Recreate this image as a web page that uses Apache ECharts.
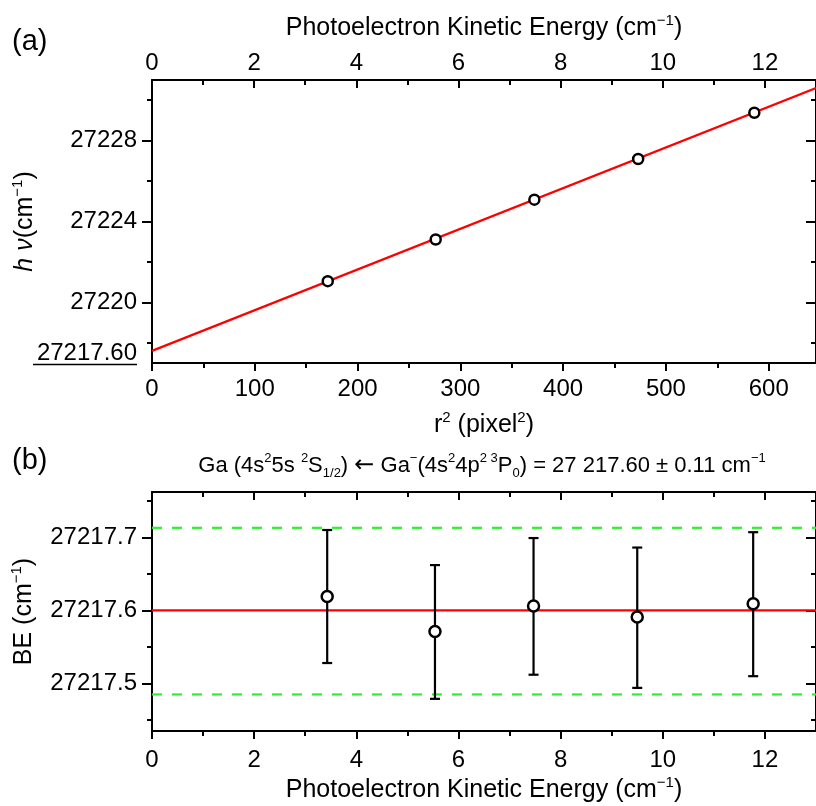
<!DOCTYPE html>
<html>
<head>
<meta charset="utf-8">
<script src="https://cdn.jsdelivr.net/npm/echarts@6/dist/echarts.min.js"></script>
<style>html,body{margin:0;background:#fff}#c{width:816px;height:806px}</style>
</head>
<body>
<div id="c"></div>
<script>
// measured points (same five spectra in both panels)
const keVals = [3.43, 5.54, 7.47, 9.50, 11.77];
const r2Vals = [171, 276, 372, 473, 586];
const hvVals = [27221.05, 27223.11, 27225.08, 27227.09, 27229.38];
const beVals = [27217.619, 27217.571, 27217.606, 27217.591, 27217.609];
const beLow = [27217.528, 27217.479, 27217.512, 27217.494, 27217.510];
const beHigh = [27217.710, 27217.662, 27217.699, 27217.686, 27217.707];
// linear fit and result
const fitR2 = [0, 646];
const fitHv = [27217.60, 27230.60];
const beFit = 27217.60;
const beBand = [27217.485, 27217.713];
// axes
const keRange = [0, 13];
const r2Range = [0, 646];
const hvRange = [27217, 27231];
const beRange = [27217.435, 27217.762];
const keMajor = [0, 2, 4, 6, 8, 10, 12];
const keMinor = [1, 3, 5, 7, 9, 11];
const r2Major = [0, 100, 200, 300, 400, 500, 600];
const r2Minor = [50, 150, 250, 350, 450, 550];
const hvMajor = [27220, 27224, 27228];
const hvMinor = [27218, 27222, 27226, 27230];
const beMajor = [27217.5, 27217.6, 27217.7];
const beMinor = [27217.45, 27217.55, 27217.65, 27217.75];

const FONT = '"Liberation Sans", Arial, sans-serif';
const black = '#000';
const RED = '#ff0000';
const GREEN = '#2ef02e';

const rich = {
  sup: { fontSize: 15, lineHeight: 14, verticalAlign: 'top', fontFamily: FONT, color: black },
  sub: { fontSize: 15, lineHeight: 14, verticalAlign: 'bottom', fontFamily: FONT, color: black },
  it: { fontSize: 25, fontStyle: 'italic', fontFamily: FONT, color: black, lineHeight: 30 },
};
const nameStyle = { fontSize: 25, fontFamily: FONT, color: black, lineHeight: 30, rich: rich };

function ax(o) {
  return Object.assign({
    type: 'value',
    gridIndex: o.grid,
    position: o.pos,
    min: o.range[0],
    max: o.range[1],
    axisLine: { show: o.line !== false, onZero: false, lineStyle: { color: black, width: 2 } },
    axisTick: { show: true, inside: !!o.inside, length: o.len, customValues: o.ticks,
      lineStyle: { color: black, width: 2 } },
    axisLabel: o.fmt ? { show: true, customValues: o.ticks, fontSize: 24, fontFamily: FONT,
      color: black, margin: o.margin, formatter: o.fmt } : { show: false },
    splitLine: { show: false },
  }, o.extra || {});
}
const num = v => String(v);

const chart = echarts.init(document.getElementById('c'));
chart.setOption({
  animation: false,
  backgroundColor: '#fff',
  grid: [
    { left: 152, top: 80, right: -6, height: 283 },
    { left: 152, top: 492, right: -6, height: 241 },
  ],
  xAxis: [
    // 0,1: top panel r^2 (bottom)
    ax({ grid: 0, pos: 'bottom', range: r2Range, ticks: r2Major, len: 8, fmt: num, margin: 14,
      extra: { name: 'r{sup|2} (pixel{sup|2})', nameLocation: 'middle', nameGap: 47, nameTextStyle: nameStyle } }),
    ax({ grid: 0, pos: 'bottom', range: r2Range, ticks: r2Minor, len: 5, line: false }),
    // 2,3: top panel KE (top)
    ax({ grid: 0, pos: 'top', range: keRange, ticks: keMajor, len: 8, inside: true, fmt: num, margin: 5,
      extra: { name: 'Photoelectron Kinetic Energy (cm{sup|−1})', nameLocation: 'middle', nameGap: 37, nameTextStyle: nameStyle } }),
    ax({ grid: 0, pos: 'top', range: keRange, ticks: keMinor, len: 5, inside: true, line: false }),
    // 4,5: bottom panel KE (bottom)
    ax({ grid: 1, pos: 'bottom', range: keRange, ticks: keMajor, len: 8, fmt: num, margin: 17,
      extra: { name: 'Photoelectron Kinetic Energy (cm{sup|−1})', nameLocation: 'middle', nameGap: 44, nameTextStyle: nameStyle } }),
    ax({ grid: 1, pos: 'bottom', range: keRange, ticks: keMinor, len: 5, line: false }),
    // 6,7: bottom panel KE (top)
    ax({ grid: 1, pos: 'top', range: keRange, ticks: keMajor, len: 8, inside: true }),
    ax({ grid: 1, pos: 'top', range: keRange, ticks: keMinor, len: 5, inside: true, line: false }),
  ],
  yAxis: [
    // 0..3: top panel h nu
    ax({ grid: 0, pos: 'left', range: hvRange, ticks: hvMajor, len: 10, fmt: num, margin: 15,
      extra: { name: '{it|h ν}(cm{sup|−1})', nameLocation: 'middle', nameGap: 112, nameRotate: 90, nameTextStyle: nameStyle } }),
    ax({ grid: 0, pos: 'left', range: hvRange, ticks: hvMinor, len: 5, line: false }),
    ax({ grid: 0, pos: 'right', range: hvRange, ticks: hvMajor, len: 10, inside: true }),
    ax({ grid: 0, pos: 'right', range: hvRange, ticks: hvMinor, len: 5, inside: true, line: false }),
    // 4..7: bottom panel BE
    ax({ grid: 1, pos: 'left', range: beRange, ticks: beMajor, len: 10, fmt: v => v.toFixed(1), margin: 15,
      extra: { name: 'BE (cm{sup|−1})', nameLocation: 'middle', nameGap: 112, nameRotate: 90, nameTextStyle: nameStyle } }),
    ax({ grid: 1, pos: 'left', range: beRange, ticks: beMinor, len: 5, line: false }),
    ax({ grid: 1, pos: 'right', range: beRange, ticks: beMajor, len: 10, inside: true }),
    ax({ grid: 1, pos: 'right', range: beRange, ticks: beMinor, len: 5, inside: true, line: false }),
  ],
  series: [
    {
      type: 'line', xAxisIndex: 0, yAxisIndex: 0, symbol: 'none', clip: true,
      data: fitR2.map((x, i) => [x, fitHv[i]]),
      lineStyle: { color: RED, width: 2.2 }, z: 2,
    },
    {
      type: 'scatter', xAxisIndex: 0, yAxisIndex: 0, symbol: 'circle', symbolSize: 10,
      data: r2Vals.map((x, i) => [x, hvVals[i]]),
      itemStyle: { color: '#fff', borderColor: black, borderWidth: 2.5, opacity: 1 }, z: 5,
    },
    {
      type: 'line', xAxisIndex: 4, yAxisIndex: 4, symbol: 'none',
      data: keRange.map(x => [x, beFit]),
      lineStyle: { color: RED, width: 2.2 }, z: 2,
    },
    {
      type: 'line', xAxisIndex: 4, yAxisIndex: 4, symbol: 'none',
      data: keRange.map(x => [x, beBand[0]]),
      lineStyle: { color: GREEN, width: 2.2, type: [10, 10] }, z: 2,
    },
    {
      type: 'line', xAxisIndex: 4, yAxisIndex: 4, symbol: 'none',
      data: keRange.map(x => [x, beBand[1]]),
      lineStyle: { color: GREEN, width: 2.2, type: [10, 10] }, z: 2,
    },
    {
      type: 'custom', xAxisIndex: 4, yAxisIndex: 4, z: 3,
      data: keVals.map((x, i) => [x, beLow[i], beHigh[i]]),
      renderItem: function (params, api) {
        const lo = api.coord([api.value(0), api.value(1)]);
        const hi = api.coord([api.value(0), api.value(2)]);
        const st = { stroke: black, lineWidth: 2.2 };
        return {
          type: 'group',
          children: [
            { type: 'line', shape: { x1: lo[0], y1: lo[1], x2: hi[0], y2: hi[1] }, style: st },
            { type: 'line', shape: { x1: lo[0] - 5, y1: lo[1], x2: lo[0] + 5, y2: lo[1] }, style: st },
            { type: 'line', shape: { x1: hi[0] - 5, y1: hi[1], x2: hi[0] + 5, y2: hi[1] }, style: st },
          ],
        };
      },
    },
    {
      type: 'scatter', xAxisIndex: 4, yAxisIndex: 4, symbol: 'circle', symbolSize: 11,
      data: keVals.map((x, i) => [x, beVals[i]]),
      itemStyle: { color: '#fff', borderColor: black, borderWidth: 2.5, opacity: 1 }, z: 5,
    },
  ],
});

// panel letters, panel (b) result and the underlined intercept label
const p0 = chart.convertToPixel({ xAxisIndex: 0, yAxisIndex: 0 }, [fitR2[0], fitHv[0]]);
chart.setOption({
  graphic: [
    { type: 'text', left: 12, top: 27, style: { text: '(a)', font: '29px ' + FONT, fill: black } },
    { type: 'text', left: 12, top: 446, style: { text: '(b)', font: '29px ' + FONT, fill: black } },
    {
      type: 'text', x: 482, y: 466,
      style: {
        text: 'Ga (4s{sup|2}5s {sup|2}S{sub|1/2}) {arr|←} Ga{sup|−}(4s{sup|2}4p{sup|2 3}P{sub|0}) = 27 217.60 ± 0.11 cm{sup|−1}',
        font: '22px ' + FONT, fill: black, align: 'center', verticalAlign: 'middle', lineHeight: 28,
        rich: {
          sup: { fontSize: 13, lineHeight: 13, verticalAlign: 'top', fontFamily: FONT, fill: black },
          sub: { fontSize: 13, lineHeight: 13, verticalAlign: 'bottom', fontFamily: FONT, fill: black },
          arr: { fontSize: 24, lineHeight: 28, fontFamily: '"DejaVu Sans", sans-serif', fill: black },
        },
      },
    },
    {
      type: 'text', x: p0[0] - 15, y: p0[1] + 3,
      style: { text: fitHv[0].toFixed(2), font: '24px ' + FONT, fill: black, align: 'right', verticalAlign: 'middle' },
    },
    {
      type: 'rect', shape: { x: p0[0] - 119, y: p0[1] + 13, width: 104, height: 1.5 },
      style: { fill: black },
    },
  ],
});
</script>
</body>
</html>
